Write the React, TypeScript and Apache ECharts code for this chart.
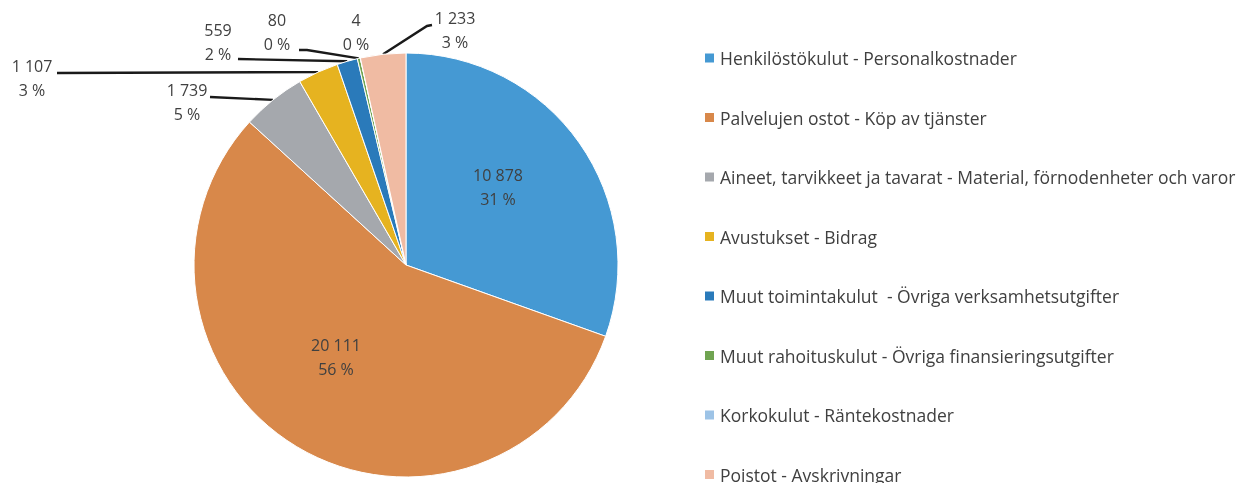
import React, { useEffect, useRef } from "react";
import * as echarts from "echarts";

const categories = [
  "Henkilöstökulut - Personalkostnader",
  "Palvelujen ostot - Köp av tjänster",
  "Aineet, tarvikkeet ja tavarat - Material, förnodenheter och varor",
  "Avustukset - Bidrag",
  "Muut toimintakulut  - Övriga verksamhetsutgifter",
  "Muut rahoituskulut - Övriga finansieringsutgifter",
  "Korkokulut - Räntekostnader",
  "Poistot - Avskrivningar",
];
const values = [10878, 20111, 1739, 1107, 559, 80, 4, 1233];
const colors = ["#4599d3", "#d8884a", "#a5a8ad", "#e6b320", "#2a7aba", "#70a451", "#9dc3e6", "#f0bba3"];

// label layout (text centre, leader-line bends) per slice
const labelPos: number[][] = [
  [498, 187],
  [336, 357],
  [187, 102],
  [32, 78],
  [218, 42],
  [277, 32],
  [356, 32],
  [455, 30],
];
const lineBends: (number[][] | null)[] = [
  null,
  null,
  [[210, 97]],
  [[57, 73]],
  [[238, 59]],
  [[307, 50], [299, 50]],
  null,
  [[427, 26], [432, 25]],
];

const fmt = (v: number) => String(v).replace(/\B(?=(\d{3})+(?!\d))/g, " ");
const FONT = "Open Sans";

export default function App() {
  const ref = useRef<HTMLDivElement>(null);
  useEffect(() => {
    if (!ref.current) return;
    const chart = echarts.init(ref.current, null, { renderer: "svg" });
    const cx = 406, cy = 265, r = 212;
    const total = values.reduce((a, b) => a + b, 0);
    chart.setOption({
      animation: false,
      textStyle: { fontFamily: FONT },
      legend: {
        orient: "vertical",
        left: 703,
        top: 48,
        height: 800,
        padding: 0,
        itemWidth: 11,
        itemHeight: 11,
        itemGap: 39.5,
        icon: "rect",
        selectedMode: false,
        textStyle: { fontFamily: FONT, fontSize: 17.5, color: "#404040", lineHeight: 20 },
        data: categories,
      },
      series: [
        {
          type: "pie",
          center: [cx, cy],
          radius: r,
          startAngle: 90,
          clockwise: true,
          avoidLabelOverlap: false,
          percentPrecision: 0,
          itemStyle: { borderColor: "#fff", borderWidth: 1 },
          label: {
            fontFamily: FONT,
            fontSize: 16,
            lineHeight: 24,
            color: "#404040",
            formatter: (p: any) => `${fmt(p.value)}\n${p.percent} %`,
          },
          labelLine: { show: true, length: 10, length2: 10, lineStyle: { color: "#1a1a1a", width: 2.4 } },
          labelLayout: (p: any) => {
            const i = p.dataIndex;
            const pos = labelPos[i];
            const out: any = { x: pos[0], y: pos[1], align: "center", verticalAlign: "middle" };
            const bends = lineBends[i];
            if (bends) {
              let start = p.labelLinePoints && p.labelLinePoints[0];
              if (!start) {
                let cum = 0;
                for (let k = 0; k < i; k++) cum += values[k];
                const a = ((cum + values[i] / 2) / total) * Math.PI * 2;
                start = [cx + r * Math.sin(a), cy - r * Math.cos(a)];
              }
              out.labelLinePoints = [[start[0], start[1]], ...bends];
            }
            return out;
          },
          data: categories.map((name, i) => ({
            name,
            value: values[i],
            itemStyle: { color: colors[i] },
            label: { position: i < 2 ? "inside" : "outside" },
            labelLine: { show: !!lineBends[i] },
          })),
        },
      ],
    });
    return () => chart.dispose();
  }, []);
  return <div ref={ref} style={{ position: "fixed", left: 0, top: 0, width: 1244, height: 483 }} />;
}
